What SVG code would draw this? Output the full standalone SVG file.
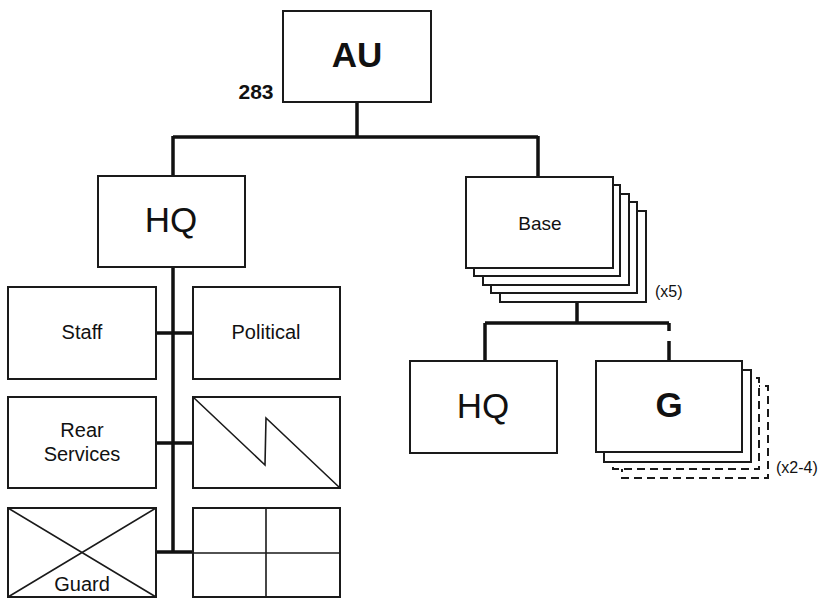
<svg xmlns="http://www.w3.org/2000/svg" width="822" height="599" viewBox="0 0 822 599">
<style>
.box{fill:#fff;stroke:#1a1a1a;stroke-width:2}
.dash{fill:#fff;stroke:#1a1a1a;stroke-width:2;stroke-dasharray:8 5}
.thin{fill:none;stroke:#1a1a1a;stroke-width:1.6}
.conn{fill:none;stroke:#111;stroke-width:3.5}
text{font-family:"Liberation Sans",Arial,sans-serif;fill:#111;text-anchor:middle}
.big{font-size:35px}
.bold{font-weight:bold}
.mid{font-size:20px}
.small{font-size:16px;text-anchor:start}
</style>
<rect width="822" height="599" fill="#fff"/>
<g id="connectors">
<path class="conn" d="M357,102 V137 M173,137 H538 M173,136 V176 M538,136 V177"/>
<path class="conn" d="M173,267 V552 M156,333 H193 M156,443 H193 M156,552 H193"/>
<path class="conn" d="M577,302 V323 M485,323 H669 M485,323 V361 M669,323 V331 M669,341 V361"/>
</g>
<g id="au">
<rect class="box" x="283" y="11" width="148" height="91"/>
<text class="bold" x="357" y="67" style="font-size:35px">AU</text>
<text class="bold" x="256" y="99" style="font-size:21px">283</text>
</g>
<g id="hq">
<rect class="box" x="98" y="176" width="147" height="91"/>
<text class="big" x="171" y="232">HQ</text>
</g>
<g id="base">
<rect class="box" x="500" y="211" width="146" height="91"/>
<rect class="box" x="491" y="202" width="146" height="91"/>
<rect class="box" x="483" y="194" width="146" height="91"/>
<rect class="box" x="474" y="185" width="146" height="91"/>
<rect class="box" x="466" y="177" width="147" height="91"/>
<text x="540" y="230" style="font-size:19px">Base</text>
<text class="small" x="655" y="297">(x5)</text>
</g>
<g id="staff">
<rect class="box" x="8" y="287" width="148" height="92"/>
<text class="mid" x="82" y="339">Staff</text>
</g>
<g id="political">
<rect class="box" x="193" y="287" width="147" height="92"/>
<text class="mid" x="266" y="339">Political</text>
</g>
<g id="rear-services">
<rect class="box" x="8" y="397" width="148" height="91"/>
<text class="mid" x="82" y="437">Rear</text>
<text class="mid" x="82" y="461">Services</text>
</g>
<g id="signal">
<rect class="box" x="193" y="397" width="147" height="91"/>
<path class="thin" d="M193,397 L265,465 L266,418 L340,488"/>
</g>
<g id="guard">
<rect class="box" x="8" y="508" width="148" height="89"/>
<path class="thin" d="M8,508 L156,597 M156,508 L8,597"/>
<text class="mid" x="82" y="591">Guard</text>
</g>
<g id="grid">
<rect class="box" x="193" y="508" width="147" height="89"/>
<path class="thin" d="M266,508 V597 M193,553 H340"/>
</g>
<g id="hq2">
<rect class="box" x="410" y="361" width="147" height="92"/>
<text class="big" x="483" y="418">HQ</text>
</g>
<g id="g">
<rect class="dash" x="622" y="386" width="146" height="92"/>
<rect class="dash" x="613" y="378" width="146" height="91"/>
<rect class="box" x="604" y="370" width="147" height="92"/>
<rect class="box" x="596" y="361" width="146" height="91"/>
<text class="big bold" x="669" y="417">G</text>
<text class="small" x="776" y="473">(x2-4)</text>
</g>
</svg>
